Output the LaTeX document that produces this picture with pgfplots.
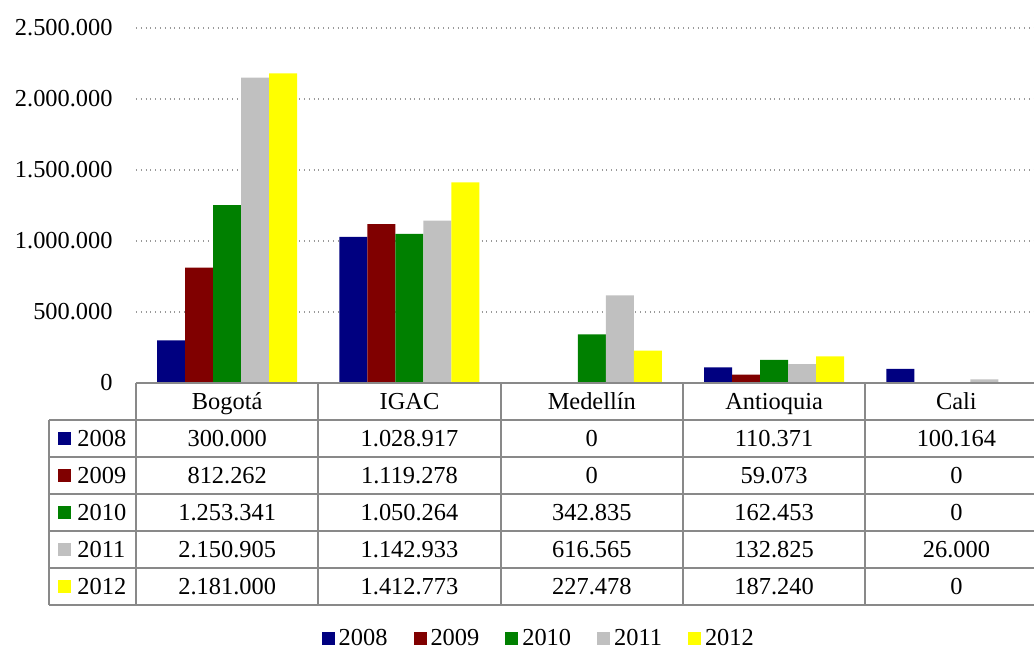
\documentclass[border=0pt]{standalone}
\usepackage{fontspec}
\setmainfont{Liberation Serif}
\usepackage{pgfplots}
\pgfplotsset{compat=1.18}

\definecolor{c2008}{RGB}{0,0,128}
\definecolor{c2009}{RGB}{128,0,0}
\definecolor{c2010}{RGB}{0,128,0}
\definecolor{c2011}{RGB}{192,192,192}
\definecolor{c2012}{RGB}{255,255,0}
\definecolor{tblgray}{RGB}{137,137,137}
\newcommand{\tf}{\fontsize{12.2}{14.6}\selectfont}

\begin{document}
\begin{tikzpicture}
\useasboundingbox (0,0) rectangle (517pt,323.5pt);
\clip (0,0) rectangle (517pt,323.5pt);
\begin{axis}[
  at={(68pt,132pt)}, anchor=south west,
  scale only axis, width=455.75pt, height=177.5pt,
  ybar=0pt, bar width=14pt,
  xmin=-0.5, xmax=4.5, ymin=0, ymax=2500000,
  xtick=\empty,
  ytick={0,500000,1000000,1500000,2000000,2500000},
  scaled y ticks=false,
  yticklabel style={font=\tf, anchor=east, inner sep=0pt, xshift=-11.5pt,
    /pgf/number format/fixed, /pgf/number format/precision=0,
    /pgf/number format/1000 sep={.}, /pgf/number format/assume math mode=true},
  ytick style={draw=none},
  axis line style={draw=none},
  ymajorgrids, grid style={dotted, gray!80, line width=0.6pt},
  legend style={at={(0.443,-0.721)}, anchor=center, draw=none, fill=none,
    legend columns=5, font=\tf,
    /tikz/every even column/.append style={column sep=11pt}},
  legend image code/.code={\fill[#1,draw=none] (0pt,-3.25pt) rectangle (6.5pt,3.25pt);},
]
\addplot[fill=c2008, draw=none] coordinates {(0,300000) (1,1028917) (2,0) (3,110371) (4,100164)};
\addplot[fill=c2009, draw=none] coordinates {(0,812262) (1,1119278) (2,0) (3,59073) (4,0)};
\addplot[fill=c2010, draw=none] coordinates {(0,1253341) (1,1050264) (2,342835) (3,162453) (4,0)};
\addplot[fill=c2011, draw=none] coordinates {(0,2150905) (1,1142933) (2,616565) (3,132825) (4,26000)};
\addplot[fill=c2012, draw=none] coordinates {(0,2181000) (1,1412773) (2,227478) (3,187240) (4,0)};
\legend{2008,2009,2010,2011,2012}
\end{axis}

% data table below the plot (pixel coordinates, origin top left)
\begin{scope}[shift={(0pt,323.5pt)}, x=0.5pt, y=-0.5pt]
  \draw[tblgray, line width=0.9pt] (136,383) -- (1047.5,383);
  \foreach \yy in {420,457,494,531,568,605}
    \draw[tblgray, line width=0.9pt] (49,\yy) -- (1047.5,\yy);
  \draw[tblgray, line width=0.9pt] (49,420) -- (49,605);
  \foreach \xx in {136,318.3,500.6,682.9,865.2,1047.5}
    \draw[tblgray, line width=0.9pt] (\xx,383) -- (\xx,605);
  \node[font=\tf, anchor=base, inner sep=0pt] at (227.2,409.5) {Bogotá};
  \node[font=\tf, anchor=base, inner sep=0pt] at (409.5,409.5) {IGAC};
  \node[font=\tf, anchor=base, inner sep=0pt] at (591.8,409.5) {Medellín};
  \node[font=\tf, anchor=base, inner sep=0pt] at (774.1,409.5) {Antioquia};
  \node[font=\tf, anchor=base, inner sep=0pt] at (956.4,409.5) {Cali};
  \foreach \yr/\col/\r in {2008/c2008/0,2009/c2009/1,2010/c2010/2,2011/c2011/3,2012/c2012/4} {
    \fill[\col] (58,{432+37*\r}) rectangle (71,{445+37*\r});
    \node[font=\tf, anchor=base west, inner sep=0pt] at (77,{446.5+37*\r}) {\yr};
  }
  \foreach \a/\b/\c/\d/\e [count=\r from 0] in {
      300.000/1.028.917/0/110.371/100.164,
      812.262/1.119.278/0/59.073/0,
      1.253.341/1.050.264/342.835/162.453/0,
      2.150.905/1.142.933/616.565/132.825/26.000,
      2.181.000/1.412.773/227.478/187.240/0} {
    \node[font=\tf, anchor=base, inner sep=0pt] at (227.2,{446.5+37*\r}) {\a};
    \node[font=\tf, anchor=base, inner sep=0pt] at (409.5,{446.5+37*\r}) {\b};
    \node[font=\tf, anchor=base, inner sep=0pt] at (591.8,{446.5+37*\r}) {\c};
    \node[font=\tf, anchor=base, inner sep=0pt] at (774.1,{446.5+37*\r}) {\d};
    \node[font=\tf, anchor=base, inner sep=0pt] at (956.4,{446.5+37*\r}) {\e};
  }
\end{scope}
\end{tikzpicture}
\end{document}
